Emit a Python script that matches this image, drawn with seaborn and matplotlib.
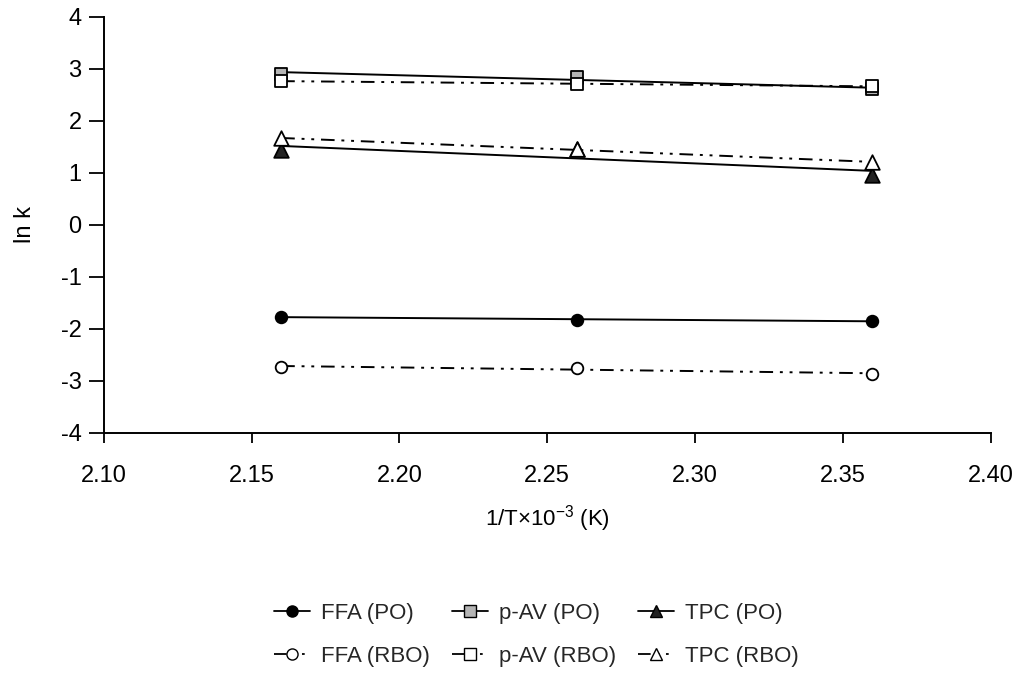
import numpy as np
import pandas as pd
import seaborn as sns
import matplotlib.pyplot as plt
from matplotlib.lines import Line2D

# Reciprocal temperature (1/T x 10^-3, K^-1)
inv_t = [2.16, 2.26, 2.36]

# ln k of each quality index
ffa_po = [-1.77, -1.83, -1.85]
ffa_rbo = [-2.73, -2.76, -2.87]
pav_po = [2.91, 2.84, 2.61]
pav_rbo = [2.77, 2.70, 2.67]
tpc_po = [1.43, 1.45, 0.95]
tpc_rbo = [1.66, 1.46, 1.20]

series_labels = ["FFA (PO)", "p-AV (PO)", "TPC (PO)",
                 "FFA (RBO)", "p-AV (RBO)", "TPC (RBO)"]
x_ticks = [2.10, 2.15, 2.20, 2.25, 2.30, 2.35, 2.40]
y_ticks = [-4, -3, -2, -1, 0, 1, 2, 3, 4]

sns.set_theme(style="white")
plt.rcParams['font.family'] = ['Liberation Sans', 'DejaVu Sans']
plt.rcParams['mathtext.default'] = 'regular'

solid = '-'
dashdotdot = (0, (7, 3.5, 1.5, 3.5, 1.5, 3.5))

styles = {
    "FFA (PO)":   dict(marker='o', face='black', ls=solid, s=70),
    "p-AV (PO)":  dict(marker='s', face='#b5b5b5', ls=solid, s=75),
    "TPC (PO)":   dict(marker='^', face='#222222', ls=solid, s=110),
    "FFA (RBO)":  dict(marker='o', face='white', ls=dashdotdot, s=70),
    "p-AV (RBO)": dict(marker='s', face='white', ls=dashdotdot, s=75),
    "TPC (RBO)":  dict(marker='^', face='white', ls=dashdotdot, s=110),
}
values = dict(zip(series_labels, [ffa_po, pav_po, tpc_po, ffa_rbo, pav_rbo, tpc_rbo]))

fig = plt.figure(figsize=(10.18, 6.74), dpi=100)
ax = fig.add_axes([0.102, 0.358, 0.871, 0.617])

for name in series_labels:
    st = styles[name]
    df = pd.DataFrame({"x": inv_t, "y": values[name]})
    # linear trend line through the three temperatures
    sns.regplot(data=df, x="x", y="y", ax=ax, ci=None, truncate=True,
                scatter=False,
                line_kws=dict(color='black', lw=1.4, linestyle=st['ls'], zorder=2))
    sns.scatterplot(data=df, x="x", y="y", ax=ax, marker=st['marker'],
                    s=st['s'], color=st['face'], edgecolor='black', linewidth=1.3,
                    zorder=3, legend=False)

ax.set_xlim(2.10, 2.40)
ax.set_ylim(-4, 4)
ax.set_xticks(x_ticks)
ax.set_xticklabels([f"{v:.2f}" for v in x_ticks])
ax.set_yticks(y_ticks)
ax.set_yticklabels([str(v) for v in y_ticks])

for side in ['top', 'right']:
    ax.spines[side].set_visible(False)
for side in ['left', 'bottom']:
    ax.spines[side].set_color('black')
    ax.spines[side].set_linewidth(1.4)

ax.tick_params(axis='y', direction='out', length=11, width=1.3,
               labelsize=17, pad=5, colors='black', left=True)
ax.tick_params(axis='x', direction='out', length=7, width=1.3,
               labelsize=17, pad=16, colors='black', bottom=True)

ax.set_xlabel('1/T×10$^{-3}$ (K)', fontsize=16, labelpad=12, color='black')
ax.set_ylabel('ln k', fontsize=17, labelpad=18, color='black')

handles = []
order = ["FFA (PO)", "FFA (RBO)", "p-AV (PO)", "p-AV (RBO)", "TPC (PO)", "TPC (RBO)"]
for name in order:
    st = styles[name]
    handles.append(Line2D([0], [0], color='black', lw=1.3, linestyle=st['ls'],
                          marker=st['marker'], markersize=8,
                          markerfacecolor=st['face'], markeredgecolor='black',
                          label=name))

fig.legend(handles=handles, loc='upper center', bbox_to_anchor=(0.527, 0.135),
           ncol=3, frameon=False, fontsize=16, handlelength=1.6,
           columnspacing=1.0, labelspacing=1.0, handletextpad=0.5)

fig.savefig("out.png", dpi=100, facecolor='white')
